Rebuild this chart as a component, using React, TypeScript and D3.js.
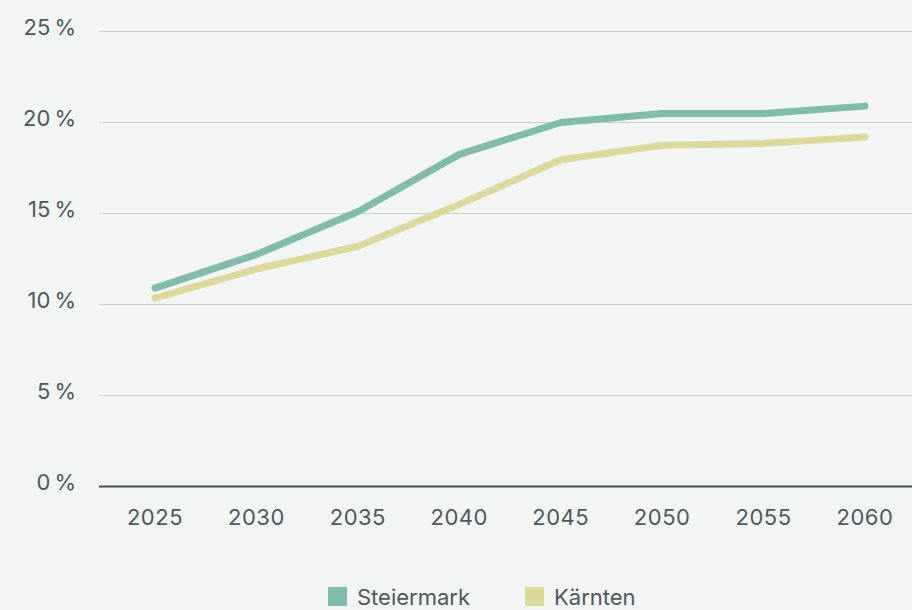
import React from "react";
import * as d3 from "d3";

const years = ["2025", "2030", "2035", "2040", "2045", "2050", "2055", "2060"];
const steiermark = [10.9, 12.75, 15.1, 18.25, 20.0, 20.5, 20.5, 20.9];
const kaernten = [10.35, 11.95, 13.2, 15.5, 17.95, 18.75, 18.85, 19.2];
const yTicks = [0, 5, 10, 15, 20, 25];
const seriesNames = ["Steiermark", "Kärnten"];
const seriesColors = ["#80bcab", "#dcd99a"];

const W = 912;
const H = 610;
const FONT = "Inter, 'Noto Sans', sans-serif";
const TEXT = "#4b5a5a";

export default function App() {
  const x = d3.scalePoint<string>().domain(years).range([155, 865]);
  const y = d3.scaleLinear().domain([0, 25]).range([486.5, 31.5]);
  const line = d3
    .line<number>()
    .x((_, i) => x(years[i]) as number)
    .y((d) => y(d));
  const series = [steiermark, kaernten];

  return (
    <svg
      width={W}
      height={H}
      style={{ position: "absolute", left: 0, top: 0, background: "#f3f5f4" }}
      fontFamily={FONT}
    >
      <rect width={W} height={H} fill="#f3f5f4" />
      {yTicks.map((t) => (
        <g key={t}>
          {t !== 0 && (
            <line x1={99} x2={W} y1={y(t)} y2={y(t)} stroke="#c9cece" strokeWidth={1} />
          )}
          <text
            x={76}
            y={y(t) + 3}
            textAnchor="end"
            fontSize={22}
            fill={TEXT}
          >
            {`${t}\u2009%`}
          </text>
        </g>
      ))}
      {series.map((s, i) => (
        <path
          key={i}
          d={line(s) as string}
          fill="none"
          stroke={seriesColors[i]}
          strokeWidth={7}
          strokeLinecap="round"
          strokeLinejoin="round"
        />
      ))}
      <line x1={99} x2={W} y1={y(0)} y2={y(0)} stroke="#3f4f4f" strokeWidth={2} />
      {years.map((yr) => (
        <text
          key={yr}
          x={x(yr)}
          y={525}
          textAnchor="middle"
          fontSize={22}
          letterSpacing={0.5}
          fill={TEXT}
        >
          {yr}
        </text>
      ))}
      {seriesNames.map((n, i) => {
        const lx = i === 0 ? 328 : 525;
        return (
          <g key={n}>
            <rect x={lx} y={587} width={19} height={19} fill={seriesColors[i]} />
            <text x={lx + 29} y={605} fontSize={22} fill={TEXT}>
              {n}
            </text>
          </g>
        );
      })}
    </svg>
  );
}
